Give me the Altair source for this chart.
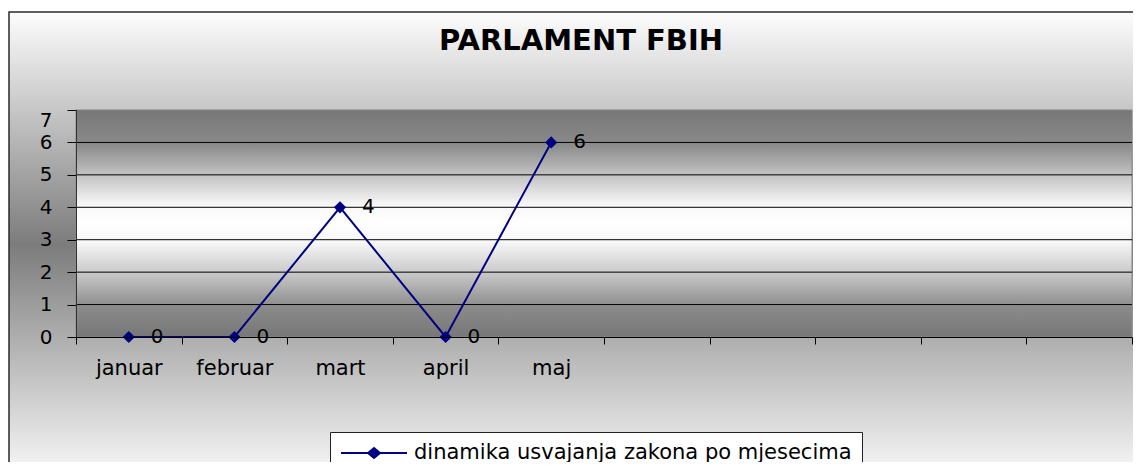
import altair as alt
import pandas as pd

# ---- data ----
title_text = "PARLAMENT FBIH"
months = ["januar", "februar", "mart", "april", "maj"]
values = [0, 0, 4, 0, 6]
blank_slots = [" ", "  ", "   ", "    ", "     "]   # empty categories on the x axis
y_ticks = [0, 1, 2, 3, 4, 5, 6, 7]
series_name = "dinamika usvajanja zakona po mjesecima"

# ---- styling ----
W, H = 1056, 227
FONT = "DejaVu Sans"
NAVY = "#000080"

x_domain = months + blank_slots
df = pd.DataFrame({"mjesec": months, "broj": values, "serija": [series_name] * len(months)})
grid_df = pd.DataFrame({"broj": y_ticks[1:-1]})
one = pd.DataFrame({"k": [0]})

x_scale = alt.Scale(type="band", domain=x_domain, paddingInner=0, paddingOuter=0)
y_scale = alt.Scale(domain=[0, 7], nice=False)

x_axis = alt.Axis(title=None, tickBand="extent", grid=False, labelAngle=0,
                  labelFont=FONT, labelFontSize=21, labelColor="black",
                  labelPadding=13, tickSize=7, tickColor="black",
                  domainColor="black", domainWidth=1, zindex=1)
y_axis = alt.Axis(title=None, values=y_ticks, grid=False,
                  labelFont=FONT, labelFontSize=20, labelColor="black",
                  labelPadding=15, tickSize=9, tickColor="black",
                  domainColor="#333333", domainWidth=1, zindex=1,
                  labelBaseline={"condition": {"test": "datum.value == 7", "value": "top"},
                                 "value": "middle"})

X = alt.X("mjesec:N", scale=x_scale, sort=x_domain, axis=x_axis)
Y = alt.Y("broj:Q", scale=y_scale, axis=y_axis)

outer_bg = alt.Chart(one).mark_rect(
    fill=alt.Gradient(gradient="linear", x1=0, x2=0, y1=0, y2=1,
                      stops=[alt.GradientStop(color="#fdfdfd", offset=0),
                             alt.GradientStop(color="#7c7c7c", offset=0.51),
                             alt.GradientStop(color="#f4f4f4", offset=1)]),
    stroke="#2a2a2a", strokeWidth=1.5
).encode(x=alt.value(-67), x2=alt.value(W + 20), y=alt.value(-98), y2=alt.value(H + 131))

plot_bg = alt.Chart(one).mark_rect(
    fill=alt.Gradient(gradient="linear", x1=0, x2=0, y1=0, y2=1,
                      stops=[alt.GradientStop(color="#777777", offset=0),
                             alt.GradientStop(color="#8a8a8a", offset=0.15),
                             alt.GradientStop(color="#c8c8c8", offset=0.30),
                             alt.GradientStop(color="#f8f8f8", offset=0.42),
                             alt.GradientStop(color="#ffffff", offset=0.5),
                             alt.GradientStop(color="#f8f8f8", offset=0.58),
                             alt.GradientStop(color="#c8c8c8", offset=0.72),
                             alt.GradientStop(color="#8a8a8a", offset=0.87),
                             alt.GradientStop(color="#777777", offset=1)]),
    stroke="#888888", strokeWidth=1
).encode(x=alt.value(0), x2=alt.value(W), y=alt.value(0), y2=alt.value(H))

grid = alt.Chart(grid_df).mark_rule(color="black", strokeWidth=1).encode(
    y=Y, x=alt.value(0), x2=alt.value(W))

legend_path = "M-1,0L1,0M-0.18,0L0,-0.15L0.18,0L0,0.15Z"
line = alt.Chart(df).mark_line(strokeWidth=2).encode(
    x=X, y=Y,
    color=alt.Color("serija:N", scale=alt.Scale(range=[NAVY]),
                    legend=alt.Legend(title=None, orient="none", legendX=254, legendY=322,
                                      symbolType=legend_path, symbolSize=4356,
                                      symbolStrokeWidth=2, symbolFillColor=NAVY,
                                      symbolStrokeColor=NAVY, symbolOpacity=1,
                                      clipHeight=22,
                                      labelFont=FONT, labelFontSize=21, labelColor="black",
                                      labelOffset=6, fillColor="white", strokeColor="#222222",
                                      padding=10, labelLimit=800)))

points = alt.Chart(df).mark_point(shape="diamond", filled=True, size=150, opacity=1,
                                  color=NAVY).encode(x=X, y=Y)

labels = alt.Chart(df).mark_text(align="left", baseline="middle", dx=22, font=FONT,
                                 fontSize=20, color="black").encode(
    x=X, y=Y, text="broj:Q")

chart = alt.layer(outer_bg, plot_bg, grid, line, points, labels).properties(
    width=W, height=H,
    autosize=alt.AutoSizeParams(type="none"),
    padding={"left": 68, "top": 102, "right": 1, "bottom": 125},
    title=alt.TitleParams(title_text, font=FONT, fontSize=29, fontWeight="bold",
                          color="black", anchor="middle", frame="group", dx=-23,
                          baseline="alphabetic", offset=-68),
).configure(background="white").configure_view(strokeWidth=0)

chart.save("out.html", embed_options={"renderer": "svg", "actions": False})
